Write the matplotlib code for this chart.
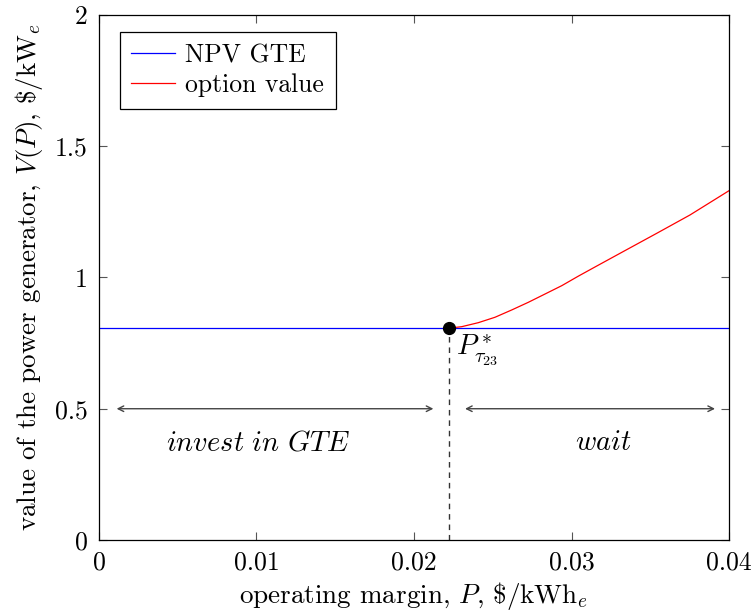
import matplotlib
matplotlib.use('Agg')
import matplotlib.pyplot as plt

plt.rcParams['font.family'] = 'serif'
plt.rcParams['font.serif'] = ['cmr10']
plt.rcParams['mathtext.fontset'] = 'cm'
plt.rcParams['axes.unicode_minus'] = False
plt.rcParams['font.size'] = 18.5

# NPV of investing in the gas turbine engine (flat in P)
npv_gte = 0.807
p_star = 0.02222

# option value curve, from the threshold P* up to the right edge
option_p = [0.02222, 0.02303, 0.02408, 0.02514, 0.02620, 0.02726, 0.02832,
            0.02938, 0.03043, 0.03149, 0.03329, 0.03541, 0.03752, 0.04000]
option_v = [0.807, 0.8126, 0.8278, 0.8484, 0.8762, 0.9055, 0.9371,
            0.9688, 1.0050, 1.0400, 1.0990, 1.1683, 1.2381, 1.3307]

x_ticks = [0, 0.01, 0.02, 0.03, 0.04]
x_tick_labels = ['0', '0.01', '0.02', '0.03', '0.04']
y_ticks = [0, 0.5, 1, 1.5, 2]
y_tick_labels = ['0', '0.5', '1', '1.5', '2']

fig = plt.figure(figsize=(7.55, 6.15), dpi=100)
ax = fig.add_axes([0.1311, 0.122, 0.8345, 0.8536])

ax.plot([0, 0.04], [npv_gte, npv_gte], color='blue', lw=0.9, label='NPV GTE')
ax.plot(option_p, option_v, color='red', lw=0.9, label='option value')

# threshold marker and dashed drop line
ax.plot([p_star, p_star], [0, npv_gte], color='#333333', lw=1.0,
        dashes=(4, 3.5))
ax.plot(p_star, npv_gte, 'o', color='black', ms=8.5, zorder=5)
ax.annotate(r'$P^*_{\tau_{23}}$', (p_star, npv_gte), xytext=(5, -3),
            textcoords='offset points', ha='left', va='top', fontsize=20.5)

# region arrows
arrow = dict(arrowstyle='<->', color='#444444', lw=1.0,
             shrinkA=0, shrinkB=0, mutation_scale=10)
ax.annotate('', xy=(0.00112, 0.5), xytext=(0.02123, 0.5), arrowprops=arrow)
ax.annotate('', xy=(0.02324, 0.5), xytext=(0.03911, 0.5), arrowprops=arrow)
ax.text(0.0101, 0.37, r'$invest\ in\ GTE$', ha='center', va='center',
        fontsize=20.5)
ax.text(0.0320, 0.37, r'$wait$', ha='center', va='center', fontsize=20.5)

ax.set_xlim(0, 0.04)
ax.set_ylim(0, 2)
ax.set_xticks(x_ticks)
ax.set_xticklabels(x_tick_labels)
ax.set_yticks(y_ticks)
ax.set_yticklabels(y_tick_labels)
ax.tick_params(direction='in', top=True, right=True, length=6, width=0.8,
               color='#555555', pad=8)
for s in ax.spines.values():
    s.set_linewidth(0.9)

ax.set_xlabel(r'operating margin, $P$, \$/kWh$_e$', labelpad=4, fontsize=19.5)
ax.set_ylabel(r'value of the power generator, $V(P)$, \$/kW$_e$', labelpad=7,
              fontsize=19.5)

leg = ax.legend(loc='upper left', bbox_to_anchor=(0.033, 0.968),
                borderaxespad=0, fancybox=False, edgecolor='black',
                framealpha=1, handlelength=1.7, handletextpad=0.4,
                borderpad=0.45, labelspacing=0.25)
leg.get_frame().set_linewidth(0.9)

fig.savefig('out.png', dpi=100)
